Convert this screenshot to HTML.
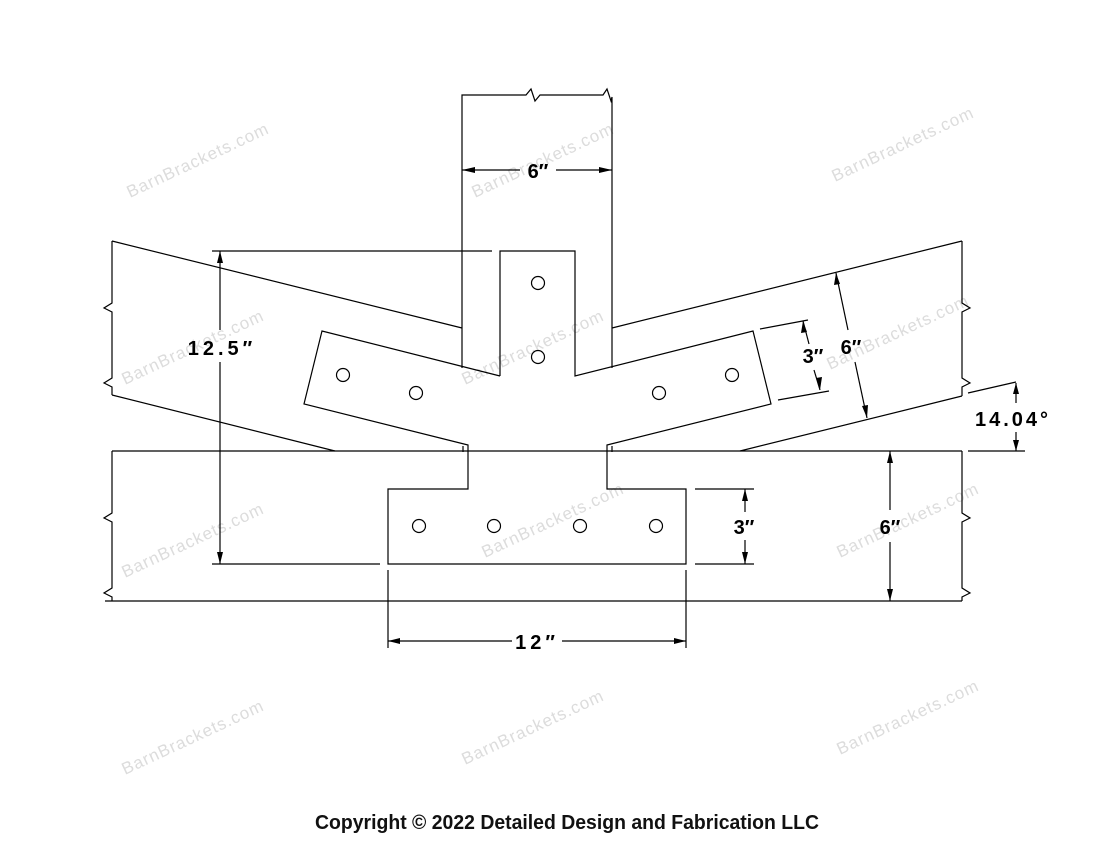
<!DOCTYPE html>
<html><head><style>
html,body{margin:0;padding:0;background:#fff;}
svg{display:block;}
.d{font-family:"Liberation Sans",sans-serif;font-weight:bold;font-size:20px;fill:#000;}
.w{font-family:"Liberation Sans",sans-serif;font-size:17px;fill:#dcdcdc;letter-spacing:1px;}
</style></head><body>
<svg width="1100" height="850" viewBox="0 0 1100 850" xmlns="http://www.w3.org/2000/svg">
<g>
<text class="w" transform="translate(130,198) rotate(-25)">BarnBrackets.com</text>
<text class="w" transform="translate(475,198) rotate(-25)">BarnBrackets.com</text>
<text class="w" transform="translate(835,182) rotate(-25)">BarnBrackets.com</text>
<text class="w" transform="translate(125,385) rotate(-25)">BarnBrackets.com</text>
<text class="w" transform="translate(465,385) rotate(-25)">BarnBrackets.com</text>
<text class="w" transform="translate(830,370) rotate(-25)">BarnBrackets.com</text>
<text class="w" transform="translate(125,578) rotate(-25)">BarnBrackets.com</text>
<text class="w" transform="translate(485,558) rotate(-25)">BarnBrackets.com</text>
<text class="w" transform="translate(840,558) rotate(-25)">BarnBrackets.com</text>
<text class="w" transform="translate(125,775) rotate(-25)">BarnBrackets.com</text>
<text class="w" transform="translate(465,765) rotate(-25)">BarnBrackets.com</text>
<text class="w" transform="translate(840,755) rotate(-25)">BarnBrackets.com</text>
</g>
<g fill="none" stroke="#000" stroke-width="1.2">
<polyline points="462,368 462,95 526,95 531,89 535,101 540,95 603,95 607,89 611,101 612,97 612,368"/>
<line x1="112" y1="241" x2="462" y2="328"/>
<polyline points="112,241 112,303 104,308 112,312 112,378 104,383 112,387 112,395"/>
<line x1="112" y1="395" x2="335" y2="451"/>
<line x1="612" y1="328" x2="962" y2="241"/>
<polyline points="962,241 962,303 970,308 962,312 962,378 970,383 962,387 962,396"/>
<line x1="740" y1="451" x2="962" y2="396"/>
<line x1="112" y1="451" x2="962" y2="451"/>
<polyline points="112,451 112,513 104,518 112,522 112,588 104,593 112,597 112,601"/>
<line x1="105" y1="601" x2="962" y2="601"/>
<polyline points="962,451 962,513 970,518 962,522 962,588 970,593 962,597 962,601"/>
<polyline points="500,376 500,251 575,251 575,376 753,331 771,404 607,445 607,489 686,489 686,564 388,564 388,489 468,489 468,445 304,404 322,331 500,376"/>
<polyline points="463,446 463,452"/><polyline points="612,446 612,452"/>
<circle cx="538" cy="283" r="6.5"/><circle cx="538" cy="357" r="6.5"/>
<circle cx="343" cy="375" r="6.5"/><circle cx="416" cy="393" r="6.5"/>
<circle cx="659" cy="393" r="6.5"/><circle cx="732" cy="375" r="6.5"/>
<circle cx="419" cy="526" r="6.5"/><circle cx="494" cy="526" r="6.5"/>
<circle cx="580" cy="526" r="6.5"/><circle cx="656" cy="526" r="6.5"/>
<line x1="462" y1="170" x2="520" y2="170"/><line x1="556" y1="170" x2="612" y2="170"/>
<line x1="212" y1="251" x2="492" y2="251"/><line x1="212" y1="564" x2="380" y2="564"/>
<line x1="220" y1="251" x2="220" y2="330"/><line x1="220" y1="362" x2="220" y2="564"/>
<line x1="760" y1="329" x2="808" y2="320"/><line x1="778" y1="400" x2="829" y2="391"/>
<line x1="803" y1="321" x2="809" y2="344"/><line x1="814" y1="370" x2="820" y2="390"/>
<line x1="836" y1="273" x2="848" y2="330"/><line x1="855" y1="362" x2="867" y2="418"/>
<line x1="968" y1="393" x2="1016" y2="382"/><line x1="968" y1="451" x2="1025" y2="451"/>
<line x1="1016" y1="383" x2="1016" y2="403"/><line x1="1016" y1="432" x2="1016" y2="451"/>
<line x1="695" y1="489" x2="754" y2="489"/><line x1="695" y1="564" x2="754" y2="564"/>
<line x1="745" y1="489" x2="745" y2="512"/><line x1="745" y1="540" x2="745" y2="564"/>
<line x1="890" y1="451" x2="890" y2="510"/><line x1="890" y1="542" x2="890" y2="601"/>
<line x1="388" y1="570" x2="388" y2="648"/><line x1="686" y1="570" x2="686" y2="648"/>
<line x1="388" y1="641" x2="512" y2="641"/><line x1="562" y1="641" x2="686" y2="641"/>
</g>
<g fill="#000">
<polygon points="462,170 475,167 475,173"/><polygon points="612,170 599,167 599,173"/>
<polygon points="220,251 217,263 223,263"/><polygon points="220,564 217,552 223,552"/>
<polygon points="803,321 801,333 807,332"/><polygon points="820,390 816,378 822,377"/>
<polygon points="836,273 834,285 840,284"/><polygon points="867,418 862,406 868,405"/>
<polygon points="1016,383 1013,394 1019,394"/><polygon points="1016,451 1013,440 1019,440"/>
<polygon points="745,489 742,501 748,501"/><polygon points="745,564 742,552 748,552"/>
<polygon points="890,451 887,463 893,463"/><polygon points="890,601 887,589 893,589"/>
<polygon points="388,641 400,638 400,644"/><polygon points="686,641 674,638 674,644"/>
</g>
<g class="d">
<text x="538" y="178" text-anchor="middle">6″</text>
<text x="222" y="355" text-anchor="middle" letter-spacing="4">12.5″</text>
<text x="813" y="363" text-anchor="middle">3″</text>
<text x="851" y="354" text-anchor="middle">6″</text>
<text x="1013" y="426" text-anchor="middle" letter-spacing="3">14.04°</text>
<text x="744" y="534" text-anchor="middle">3″</text>
<text x="890" y="534" text-anchor="middle">6″</text>
<text x="537" y="649" text-anchor="middle" letter-spacing="4">12″</text>
</g>
<text x="567" y="829" text-anchor="middle" font-family="Liberation Sans, sans-serif" font-size="20.5" font-weight="bold" fill="#111" textLength="504" lengthAdjust="spacingAndGlyphs">Copyright © 2022 Detailed Design and Fabrication LLC</text>
</svg>
</body></html>
